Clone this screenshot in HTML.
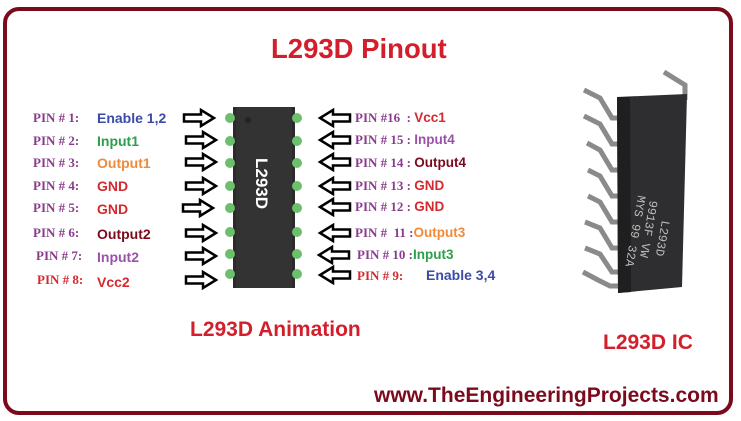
<!DOCTYPE html>
<html><head><meta charset="utf-8"><style>
body{margin:0;width:741px;height:421px;background:#fff;position:relative;overflow:hidden;font-family:"Liberation Sans",sans-serif}
.a{position:absolute;white-space:nowrap}
.p{font-family:"Liberation Serif",serif;font-weight:bold;font-size:13px;color:#8a3c8c}
.l{font-weight:bold;font-size:14px}
.r{font-family:"Liberation Sans";font-size:13.5px}
</style></head><body>
<div class="a" style="left:3px;top:7px;width:722px;height:400px;border:4px solid #7a0a1c;border-radius:16px"></div>
<div class="a" style="left:271px;top:33px;font-size:27.5px;font-weight:bold;color:#d21f2b">L293D Pinout</div>
<div class="a" style="left:190px;top:318px;font-size:21px;font-weight:bold;color:#d21f2b">L293D Animation</div>
<div class="a" style="left:603px;top:331px;font-size:21px;font-weight:bold;color:#d21f2b">L293D IC</div>
<div class="a" style="left:374px;top:384px;font-size:21px;font-weight:bold;color:#7a0a1c">www.TheEngineeringProjects.com</div>

<svg class="a" style="left:0;top:0" width="741" height="421">
<defs>
<path id="ar" d="M0,-3.5 H17 V-8 L30,0 L17,8 V3.5 H0 Z" fill="#fff" stroke="#000" stroke-width="2.5"/>
</defs>
<rect x="233" y="107" width="62" height="181" fill="#2b2b2b"/>
<rect x="236" y="107" width="56" height="181" fill="#333"/>
<circle cx="248" cy="120" r="3" fill="#222"/>
<g fill="#6cc06c">
<circle cx="230" cy="118" r="5"/><circle cx="230" cy="141" r="5"/><circle cx="230" cy="163" r="5"/><circle cx="230" cy="186" r="5"/><circle cx="230" cy="208" r="5"/><circle cx="230" cy="232" r="5"/><circle cx="230" cy="254" r="5"/><circle cx="230" cy="274" r="5"/>
<circle cx="297" cy="118" r="5"/><circle cx="297" cy="141" r="5"/><circle cx="297" cy="163" r="5"/><circle cx="297" cy="186" r="5"/><circle cx="297" cy="208" r="5"/><circle cx="297" cy="232" r="5"/><circle cx="297" cy="254" r="5"/><circle cx="297" cy="274" r="5"/>
</g>
<text x="0" y="0" transform="translate(256,158) rotate(90)" font-family="Liberation Sans" font-weight="bold" font-size="17" fill="#fff">L293D</text>
<g>
<use href="#ar" transform="translate(184,118)"/><use href="#ar" transform="translate(186,140)"/><use href="#ar" transform="translate(186,162)"/><use href="#ar" transform="translate(186,186)"/><use href="#ar" transform="translate(183,208)"/><use href="#ar" transform="translate(186,233)"/><use href="#ar" transform="translate(186,256)"/><use href="#ar" transform="translate(186,280)"/>
<use href="#ar" transform="translate(350,118) scale(-1,1)"/><use href="#ar" transform="translate(350,140) scale(-1,1)"/><use href="#ar" transform="translate(350,162) scale(-1,1)"/><use href="#ar" transform="translate(350,186) scale(-1,1)"/><use href="#ar" transform="translate(350,207) scale(-1,1)"/><use href="#ar" transform="translate(350,233) scale(-1,1)"/><use href="#ar" transform="translate(349,255) scale(-1,1)"/><use href="#ar" transform="translate(350,275) scale(-1,1)"/>
</g>
<g stroke="#8a8a8a" stroke-width="5" fill="none">
<path d="M584,90 L600,98 L612,118 L620,118"/><path d="M584,116 L600,124 L612,144 L620,144"/><path d="M587,143 L600,150 L612,170 L620,170"/><path d="M588,170 L600,176 L612,196 L620,196"/><path d="M588,196 L600,202 L612,222 L620,222"/><path d="M585,222 L600,228 L612,248 L620,248"/><path d="M585,248 L600,254 L612,272 L620,272"/><path d="M583,272 L598,280 L610,286 L620,286"/>
<path d="M664,72 L685,85 L685,100"/>
</g>
<path d="M617,97 L687,94 L682,287 L618,293 Z" fill="#2e2e30"/>
<path d="M617,97 L630,97 L631,292 L618,293 Z" fill="#1f1f20"/>
<g fill="#bdbdbd" font-family="Liberation Mono" font-size="12">
<text transform="translate(662,220) rotate(100)">L293D</text>
<text transform="translate(650,200) rotate(100)">9913F VW</text>
<text transform="translate(638,195) rotate(100)">MYS 99 32A</text>
</g>
</svg>

<div class="a p" style="left:33px;top:110px">PIN # 1:</div><div class="a l" style="left:97px;top:110px;color:#3b4ba8">Enable 1,2</div>
<div class="a p" style="left:33px;top:133px">PIN # 2:</div><div class="a l" style="left:97px;top:133px;color:#2aa04a">Input1</div>
<div class="a p" style="left:33px;top:155px">PIN # 3:</div><div class="a l" style="left:97px;top:155px;color:#ef8a3a">Output1</div>
<div class="a p" style="left:33px;top:178px">PIN # 4:</div><div class="a l" style="left:97px;top:178px;color:#d42a2f">GND</div>
<div class="a p" style="left:33px;top:200px">PIN # 5:</div><div class="a l" style="left:97px;top:201px;color:#d42a2f">GND</div>
<div class="a p" style="left:33px;top:225px">PIN # 6:</div><div class="a l" style="left:97px;top:226px;color:#7a0a1c">Output2</div>
<div class="a p" style="left:36px;top:248px">PIN # 7:</div><div class="a l" style="left:97px;top:249px;color:#9a52a8">Input2</div>
<div class="a p" style="left:37px;top:272px;color:#d42a2f">PIN # 8:</div><div class="a l" style="left:97px;top:274px;color:#d42a2f">Vcc2</div>
<div class="a p" style="left:355px;top:110px">PIN #16 &nbsp;: <span class="r" style="color:#d42a2f">Vcc1</span></div>
<div class="a p" style="left:355px;top:132px">PIN # 15 : <span class="r" style="color:#9a52a8">Input4</span></div>
<div class="a p" style="left:355px;top:155px">PIN # 14 : <span class="r" style="color:#7a0a1c">Output4</span></div>
<div class="a p" style="left:355px;top:178px">PIN # 13 : <span class="r" style="color:#d42a2f">GND</span></div>
<div class="a p" style="left:355px;top:199px">PIN # 12 : <span class="r" style="color:#d42a2f">GND</span></div>
<div class="a p" style="left:355px;top:225px">PIN # &nbsp;11 :<span class="r" style="color:#ef8a3a">Output3</span></div>
<div class="a p" style="left:357px;top:247px">PIN # 10 :<span class="r" style="color:#2aa04a">Input3</span></div>
<div class="a p" style="left:357px;top:268px;color:#d42a2f">PIN # 9:</div><div class="a l" style="left:426px;top:267px;color:#3b4ba8">Enable 3,4</div>
</body></html>
